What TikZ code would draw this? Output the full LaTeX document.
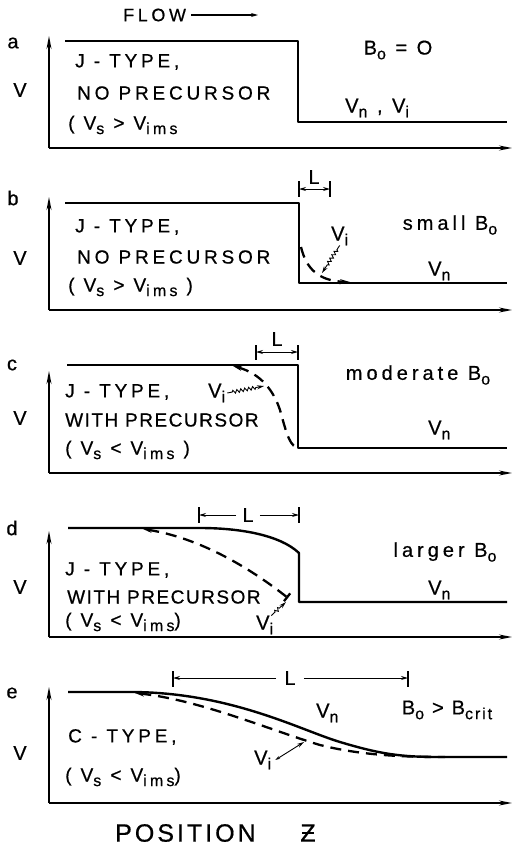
\documentclass[tikz,border=0pt]{standalone}
\usepackage{fontspec}
\setmainfont{Liberation Sans}
\newfontfamily\lt[LetterSpace=20,FakeBold=0.6]{Liberation Sans}
\newfontfamily\ltw[LetterSpace=8,FakeBold=0.6]{Liberation Sans}
\newfontfamily\ltb[LetterSpace=12,FakeBold=0.6]{Liberation Sans}
\usetikzlibrary{arrows.meta,decorations.pathmorphing}
\newcommand{\sbs}[1]{\raisebox{-0.45ex}{\fontsize{16}{16}\selectfont #1}}
\tikzset{
  txt/.style={inner sep=0pt,anchor=west,font=\fontsize{19}{19}\selectfont\lt},
  txtw/.style={inner sep=0pt,anchor=west,font=\fontsize{19}{19}\selectfont\ltw},
  lbl/.style={inner sep=0pt,font=\fontsize{20}{20}\selectfont\lt},
  axis/.style={line width=1.4pt,-{Stealth[length=13pt,width=5pt]}},
  curve/.style={line width=2.4pt,line join=round},
  dcurve/.style={line width=2.3pt,dash pattern=on 11pt off 7pt},
  tick/.style={line width=1.3pt},
  dim/.style={line width=1pt,-{Stealth[length=7pt,width=4pt]}},
  wavy/.style={line width=0.9pt,-{Stealth[length=7pt,width=4pt]},decorate,
     decoration={zigzag,amplitude=1.6pt,segment length=4pt,pre length=5pt,post length=8pt}},
}
\begin{document}
\begin{tikzpicture}[x=1pt,y=-1pt]
\useasboundingbox (0,0) rectangle (526,847);
% ---------- FLOW
\node[lbl,anchor=west,font=\fontsize{18}{18}\selectfont\lt] (flow) at (123,15) {FLOW};
\coordinate (flowend) at (258,15);
\draw[dim,line width=1.1pt] ([xshift=5pt]flow.east) -- (flowend);
% ================= panel a
\coordinate (a0) at (49,148); \coordinate (ay) at (49,36); \coordinate (ax) at (512,148);
\draw[axis] (a0) -- (ay); \draw[axis] (a0) -- (ax);
\draw[curve] (65,41) -- (298,41) -- (298,122) -- (507,122);
\node[lbl] (la) at (13,43) {a};
\node[lbl] (va) at (20,90) {V};
\node[txt] (a1) at (75,62) {J - TYPE,};
\node[txt] (a2) at (77,93) {NO PRECURSOR};
\node[txt] (a3) at (68,125) {( V\sbs{s} > V\sbs{ims}};
\node[lbl] (abo) at (398,50) {B\sbs{o} = O};
\node[lbl,anchor=west] (avn) at (345,108) {V\sbs{n} , V\sbs{i}};
% ================= panel b
\coordinate (b0) at (49,310); \coordinate (by) at (49,197); \coordinate (bx) at (512,310);
\draw[axis] (b0) -- (by); \draw[axis] (b0) -- (bx);
\draw[curve] (65,203) -- (299,203) -- (299,283) -- (507,283);
\coordinate (bt1) at (299,189); \coordinate (bt2) at (330,189);
\draw[tick] (299,181) -- (299,197); \draw[tick] (330,181) -- (330,197);
\node[lbl] (bL) at (314,177) {L};
\coordinate (bm) at (314.5,189);
\draw[dim] (bm) -- (bt1); \draw[dim] (bm) -- (bt2);
\draw[dcurve,-{Stealth[length=10pt,width=5pt]}] (301,247) .. controls (306,268) and (318,281) .. (350,282);
\node[lbl,anchor=west] (bvi) at (331,236) {V\sbs{i}};
\coordinate (bvit) at (322,273);
\draw[wavy] (bvi.south) -- (bvit);
\node[lbl] (bsb) at (450,225) {small B\sbs{o}};
\node[lbl,anchor=west] (bvn) at (428,271) {V\sbs{n}};
\node[lbl] (lb) at (13,198) {b};
\node[lbl] (vb) at (20,258) {V};
\node[txt] (b1) at (75,227) {J - TYPE,};
\node[txt] (b2) at (77,257) {NO PRECURSOR};
\node[txt] (b3) at (68,287) {( V\sbs{s} > V\sbs{ims} )};
% ================= panel c
\coordinate (c0) at (49,473); \coordinate (cy) at (49,371); \coordinate (cx) at (512,473);
\draw[axis] (c0) -- (cy); \draw[axis] (c0) -- (cx);
\draw[curve] (67,365) -- (298,365) -- (298,448) -- (507,448);
\coordinate (ct1) at (256,352); \coordinate (ct2) at (298,352);
\draw[tick] (256,345) -- (256,360); \draw[tick] (298,345) -- (298,360);
\node[lbl] (cL) at (277,339) {L};
\coordinate (cm) at (277,352);
\draw[dim] (cm) -- (ct1); \draw[dim] (cm) -- (ct2);
\draw[dcurve,{Stealth[length=9pt,width=5pt]}-] (233,366) .. controls (262,374) and (274,392) .. (280,410) .. controls (287,435) and (290,448) .. (300,448);
\node[lbl,anchor=west] (cvi) at (208,393) {V\sbs{i}};
\coordinate (cvit) at (264,386);
\draw[wavy] ([xshift=2pt]cvi.east) -- (cvit);
\node[lbl] (cmb) at (418,375) {moderate B\sbs{o}};
\node[lbl,anchor=west] (cvn) at (428,430) {V\sbs{n}};
\node[lbl] (lc) at (12,365) {c};
\node[lbl] (vc) at (20,418) {V};
\node[txt] (c1) at (65,392) {J - TYPE,};
\node[txtw] (c2) at (65,420) {WITH PRECURSOR};
\node[txt] (c3) at (65,450) {( V\sbs{s} < V\sbs{ims} )};
% ================= panel d
\coordinate (d0) at (49,637); \coordinate (dy) at (49,531); \coordinate (dx) at (512,637);
\draw[axis] (d0) -- (dy); \draw[axis] (d0) -- (dx);
\draw[curve] (68,528) -- (200,528) .. controls (240,528) and (280,535) .. (299,553) -- (299,602) -- (507,602);
\coordinate (dt1) at (199,515); \coordinate (dt2) at (299,515);
\draw[tick] (199,507) -- (199,523); \draw[tick] (299,507) -- (299,523);
\node[lbl] (dL) at (248,515) {L};
\draw[dim] ([xshift=-6pt]dL.west) -- (dt1); \draw[dim] ([xshift=6pt]dL.east) -- (dt2);
\draw[dcurve,{Stealth[length=9pt,width=5pt]}-{Bar[width=10pt]}] (143,529) .. controls (200,538) and (250,568) .. (288,598);
\node[lbl,anchor=west] (dvi) at (256,625) {V\sbs{i}};
\coordinate (dvit) at (286,602);
\draw[wavy] ([xshift=-2pt]dvi.north east) -- (dvit);
\node[lbl] (dlb) at (445,552) {larger B\sbs{o}};
\node[lbl,anchor=west] (dvn) at (428,590) {V\sbs{n}};
\node[lbl] (ld) at (12,528) {d};
\node[lbl] (vd) at (20,587) {V};
\node[txt] (d1) at (65,570) {J - TYPE,};
\node[txtw] (d2) at (67,597) {WITH PRECURSOR};
\node[txt] (d3) at (65,622) {( V\sbs{s} < V\sbs{ims})};
% ================= panel e
\coordinate (e0) at (49,803); \coordinate (ey) at (49,687); \coordinate (ex) at (512,803);
\draw[axis] (e0) -- (ey); \draw[axis] (e0) -- (ex);
\draw[curve] (68,692) -- (130,692) .. controls (230,692) and (300,730) .. (340,742) .. controls (380,754) and (400,757) .. (440,757) -- (507,757);
\draw[dcurve,{Stealth[length=9pt,width=5pt]}-] (135,693) .. controls (200,700) and (270,730) .. (320,745) .. controls (360,755) and (400,757) .. (445,757);
\coordinate (et1) at (173,678); \coordinate (et2) at (408,678);
\draw[tick] (173,671) -- (173,687); \draw[tick] (408,671) -- (408,687);
\node[lbl] (eL) at (290,678) {L};
\draw[dim] ([xshift=-8pt]eL.west) -- (et1); \draw[dim] ([xshift=8pt]eL.east) -- (et2);
\node[lbl,anchor=west] (evn) at (316,713) {V\sbs{n}};
\node[lbl,font=\fontsize{20}{20}\selectfont\ltb] (ebc) at (447,710) {B\sbs{o} > B\sbs{crit}};
\node[lbl,anchor=west] (evi) at (254,760) {V\sbs{i}};
\coordinate (evit) at (304,742);
\draw[line width=0.9pt,{Stealth[length=5pt,width=3pt]}-{Stealth[length=7pt,width=4pt]}] ([xshift=4pt]evi.east) -- (evit);
\node[lbl] (le) at (12,693) {e};
\node[lbl] (ve) at (20,753) {V};
\node[txt] (e1) at (68,737) {C - TYPE,};
\node[txt] (e2) at (65,777) {( V\sbs{s} < V\sbs{ims})};
% ---------- bottom label
\node[inner sep=0pt,anchor=west,font=\fontsize{25}{25}\selectfont\ltb] (pos) at (115,833) {POSITION};
\node[inner sep=0pt,font=\fontsize{25}{25}\selectfont\ltb] (zz) at (308,833) {Z};
\draw[line width=1.1pt] ([xshift=-6pt]zz.center) -- ([xshift=6pt]zz.center);
\end{tikzpicture}
\end{document}
